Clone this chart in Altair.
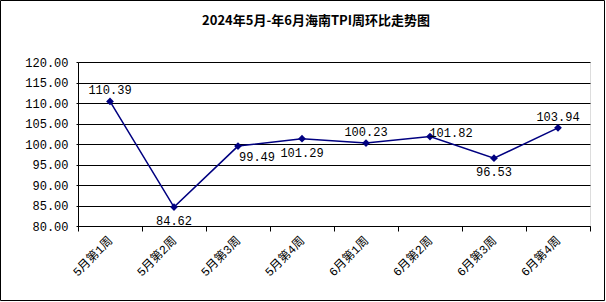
import altair as alt
import pandas as pd

weeks = ["5月第1周", "5月第2周", "5月第3周", "5月第4周",
         "6月第1周", "6月第2周", "6月第3周", "6月第4周"]
values = [110.39, 84.62, 99.49, 101.29, 100.23, 101.82, 96.53, 103.94]
placement = ["above", "below", "belowright", "below", "above", "right", "below", "above"]
y_ticks = [80, 85, 90, 95, 100, 105, 110, 115, 120]
title_text = "2024年5月-年6月海南TPI周环比走势图"

df = pd.DataFrame({"week": weeks, "value": values, "place": placement})

NUM_FONT = "Liberation Mono, Noto Sans CJK SC"
LINE = "#000080"

base = alt.Chart(df)

x_enc = alt.X("week:N", sort=weeks, title=None,
              scale=alt.Scale(paddingInner=0, paddingOuter=0),
              axis=alt.Axis(labelAngle=-45, labelAlign="right", labelBaseline="middle",
                            labelFont=NUM_FONT, labelFontSize=12, labelColor="#000",
                            tickBand="extent", tickSize=5, tickColor="#000",
                            domainColor="#000", labelPadding=7, grid=False))
y_enc = alt.Y("value:Q", title=None,
              scale=alt.Scale(domain=[80, 120], nice=False, zero=False),
              axis=alt.Axis(values=y_ticks, format=".2f", labelFont=NUM_FONT,
                            labelFontSize=12, labelColor="#000", grid=True,
                            gridColor="#000", gridWidth=1, gridOpacity=1,
                            tickSize=2, tickColor="#000", domainColor="#000",
                            labelPadding=8, labelOverlap=False))

line = base.mark_line(color=LINE, strokeWidth=1.5).encode(x=x_enc, y=y_enc)
pts = base.mark_point(shape="diamond", filled=True, color=LINE, size=60, opacity=1).encode(
    x=x_enc, y=y_enc)

offsets = {"above": (0, -11), "below": (0, 14), "belowright": (19, 11), "right": (21, -4)}
labels = []
for key, (dx, dy) in offsets.items():
    labels.append(
        base.transform_filter(alt.datum.place == key)
        .mark_text(font=NUM_FONT, fontSize=12, color="#000", dx=dx, dy=dy)
        .encode(x=x_enc, y=y_enc,
                text=alt.Text("value:Q", format=".2f"))
    )

title = alt.Chart(alt.Data(values=[{}])).mark_text(
    text=title_text, font="Noto Sans CJK SC", fontSize=13, fontWeight="bold",
    color="#000", align="center", baseline="middle"
).encode(x=alt.value(238), y=alt.value(-41))

frame = alt.Chart(alt.Data(values=[{}])).mark_rect(
    fill="transparent", stroke="#000", strokeWidth=1
).encode(x=alt.value(-77.5), x2=alt.value(526.5), y=alt.value(-61.5), y2=alt.value(238.5))

chart = alt.layer(line, pts, *labels, title, frame).properties(
    width=512, height=164,
    autosize=alt.AutoSizeParams(type="none"),
    padding={"left": 78, "top": 62, "right": 16, "bottom": 76},
).configure_view(strokeWidth=0).configure(background="#ffffff")

chart.save("out.html", embed_options={"renderer": "svg", "actions": False})
